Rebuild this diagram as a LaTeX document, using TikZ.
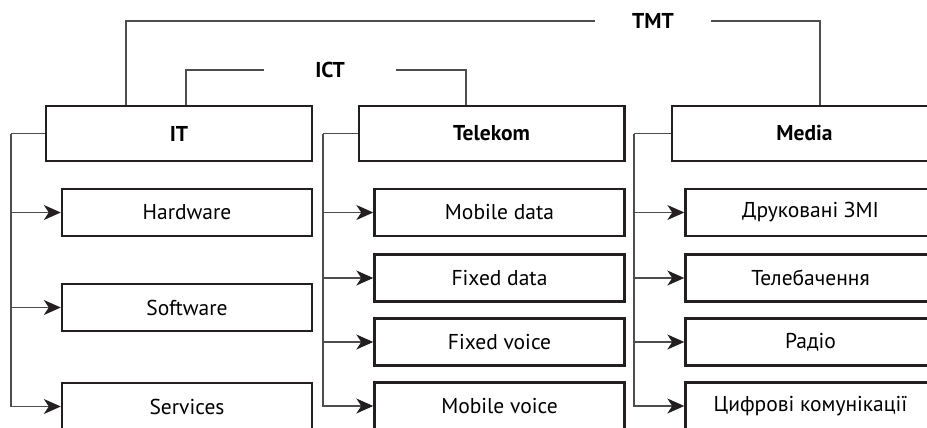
\documentclass[tikz,border=0pt]{standalone}
\usepackage{fontspec}
\setmainfont{PT Sans}
\usepackage{tikz}
\usetikzlibrary{arrows.meta,positioning,calc}
\definecolor{boxline}{HTML}{231F20}
\definecolor{linkgray}{HTML}{4D4D4D}
\tikzstyle{head} = [rectangle, draw=boxline, line width=2.4pt, minimum width=265.6pt, minimum height=54.6pt, font=\fontsize{21.5}{26}\selectfont\bfseries]
\tikzstyle{item} = [rectangle, draw=boxline, line width=2.4pt, minimum width=250pt, minimum height=47pt, font=\fontsize{21.5}{26}\selectfont]
\tikzstyle{umbrella} = [font=\fontsize{21.5}{26}\selectfont\bfseries, inner sep=0pt]
\tikzstyle{wire} = [draw=linkgray, line width=1.2pt]
\tikzstyle{feed} = [wire, -{Stealth[length=17pt,width=15pt,inset=5pt,color=boxline]}]

\begin{document}
\begin{tikzpicture}[x=1pt,y=-1pt]
    \useasboundingbox (0,0) rectangle (927,428);
    \clip (0,0) rectangle (927,428);
    % top level
    \node[head] (it) at (179,133.5) {IT};
    \node[head] (tel) at (491.5,133.5) {Telekom};
    \node[head] (med) at (804.5,133.5) {Media};
    \node[umbrella, minimum width=131pt] (ict) at (330,70) {ICT};
    \node[umbrella, minimum width=116pt] (tmt) at (653,21) {TMT};
    \draw[wire] (ict.west) -| ([xshift=7pt]it.north);
    \draw[wire] (ict.east) -| ([xshift=-25.5pt]tel.north);
    \draw[wire] (tmt.west) -| ([xshift=-53pt]it.north);
    \draw[wire] (tmt.east) -| ([xshift=15.5pt]med.north);
    % IT
    \node[item] (hw) at (187,212.5) {Hardware};
    \node[item] (sw) at (187,307.5) {Software};
    \node[item] (sv) at (187,406.5) {Services};
    \coordinate (itbus) at (11,133.5);
    \draw[wire] (it.west) -- (itbus);
    \foreach \k in {hw,sw,sv}
        \draw[feed] (itbus) |- (\k.west);
    % Telekom
    \node[item] (md) at (499.5,212.5) {Mobile data};
    \node[item] (fd) at (499.5,278) {Fixed data};
    \node[item] (fv) at (499.5,342) {Fixed voice};
    \node[item] (mv) at (499.5,406) {Mobile voice};
    \coordinate (telbus) at (323,133.5);
    \draw[wire] (tel.west) -- (telbus);
    \foreach \k in {md,fd,fv,mv}
        \draw[feed] (telbus) |- (\k.west);
    % Media
    \node[item] (pr) at (810.5,212.5) {Друковані ЗМІ};
    \node[item] (tv) at (810.5,278) {Телебачення};
    \node[item] (rd) at (810.5,342) {Радіо};
    \node[item] (dc) at (810.5,406) {Цифрові комунікації};
    \coordinate (medbus) at (634,133.5);
    \draw[wire] (med.west) -- (medbus);
    \foreach \k in {pr,tv,rd,dc}
        \draw[feed] (medbus) |- (\k.west);
\end{tikzpicture}
\end{document}
